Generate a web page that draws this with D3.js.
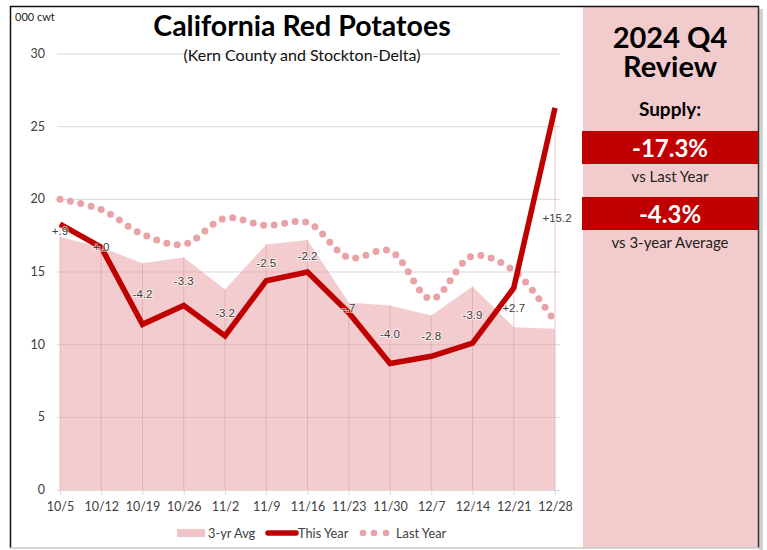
<!DOCTYPE html>
<html>
<head>
<meta charset="utf-8">
<script src="https://cdnjs.cloudflare.com/ajax/libs/d3/7.8.5/d3.min.js"></script>
<style>
  body { margin: 0; background: #fff; }
  svg text { font-family: Lato, "Open Sans", sans-serif; }
</style>
</head>
<body>
<svg id="chart" width="767" height="550"></svg>
<script>
// weeks ending
var weeks = ["10/5", "10/12", "10/19", "10/26", "11/2", "11/9", "11/16", "11/23", "11/30", "12/7", "12/14", "12/21", "12/28"];
var thisYear = [18.3, 16.7, 11.4, 12.7, 10.6, 14.4, 15.0, 12.2, 8.7, 9.2, 10.1, 13.9, 26.3];
var avg3yr = [17.4, 16.7, 15.6, 16.0, 13.8, 16.9, 17.2, 12.9, 12.7, 12.0, 14.0, 11.2, 11.1];
var lastYear = [20.0, 19.3, 17.6, 16.9, 18.7, 18.2, 18.4, 16.0, 16.45, 13.15, 16.1, 15.1, 11.55];
var diffLabels = ["+.9", "+.0", "-4.2", "-3.3", "-3.2", "-2.5", "-2.2", "-.7", "-4.0", "-2.8", "-3.9", "+2.7", "+15.2"];
var yTicks = [0, 5, 10, 15, 20, 25, 30];
var legendNames = ["3-yr Avg", "This Year", "Last Year"];

var red = "#c00000";
var pink = "#f2cbcc";

var svg = d3.select("#chart");

var x = d3.scalePoint().domain(weeks).range([60, 555]);
var y = d3.scaleLinear().domain([0, 30]).range([490, 54]);

// right panel
svg.append("rect").attr("x", 583).attr("y", 6).attr("width", 176).attr("height", 542).attr("fill", pink);

// frame
svg.append("rect").attr("x", 759).attr("y", 9).attr("width", 4).attr("height", 541).attr("fill", "#b0b0b0").attr("opacity", 0.6);
svg.append("line").attr("x1", 10).attr("x2", 759).attr("y1", 6.5).attr("y2", 6.5).attr("stroke", "#111").attr("stroke-width", 1.5);
svg.append("line").attr("x1", 10.5).attr("x2", 10.5).attr("y1", 6).attr("y2", 548).attr("stroke", "#111").attr("stroke-width", 1.5);
svg.append("line").attr("x1", 758.5).attr("x2", 758.5).attr("y1", 6).attr("y2", 548).attr("stroke", "#333").attr("stroke-width", 1.5);
svg.append("line").attr("x1", 10).attr("x2", 759).attr("y1", 548).attr("y2", 548).attr("stroke", "#c8c8c8").attr("stroke-width", 1.5);

// gridlines
svg.append("g").selectAll("line").data(yTicks.slice(1)).enter().append("line")
  .attr("x1", 57).attr("x2", 560)
  .attr("y1", function (d) { return y(d); }).attr("y2", function (d) { return y(d); })
  .attr("stroke", "#d9d9d9").attr("stroke-width", 1);

// 3-yr avg area
var area = d3.area()
  .x(function (d, i) { return x(weeks[i]); })
  .y0(y(0))
  .y1(function (d) { return y(d); });
svg.append("path").datum(avg3yr).attr("d", area)
  .attr("fill", "#e7a2a5").attr("opacity", 0.55);

// drop lines
svg.append("g").selectAll("line").data(weeks).enter().append("line")
  .attr("x1", function (d) { return x(d); }).attr("x2", function (d) { return x(d); })
  .attr("y1", function (d, i) { return y(Math.max(thisYear[i], avg3yr[i])); })
  .attr("y2", y(0))
  .attr("stroke", "#e39a9d").attr("stroke-width", 1).attr("opacity", 0.55);

// x axis
var xAxis = d3.axisBottom(x).tickSize(5).tickPadding(7);
var gx = svg.append("g").attr("transform", "translate(0," + y(0) + ")").call(xAxis);
gx.select(".domain").attr("d", "M57,0.5H560").attr("stroke", "#d9d9d9");
gx.selectAll(".tick line").attr("stroke", "#d9d9d9");
gx.selectAll(".tick text").attr("fill", "#404040").style("font-size", "12.5px").style("font-family", "Lato, sans-serif");

// y axis labels
svg.append("g").selectAll("text").data(yTicks).enter().append("text")
  .attr("x", 45).attr("y", function (d) { return y(d) + 4; })
  .attr("text-anchor", "end").attr("fill", "#404040").style("font-size", "12.5px")
  .text(function (d) { return d; });

svg.append("text").attr("x", 15).attr("y", 21).attr("fill", "#222").style("font-size", "11px").text("000 cwt");

// last year dotted smooth line
var smoothLine = d3.line()
  .x(function (d, i) { return x(weeks[i]); })
  .y(function (d) { return y(d); })
  .curve(d3.curveCatmullRom.alpha(0.5));
svg.append("path").datum(lastYear).attr("d", smoothLine)
  .attr("fill", "none").attr("stroke", "#e9a3a6").attr("stroke-width", 7)
  .attr("stroke-linecap", "round").attr("stroke-dasharray", "0 10.6");

// this year line
var line = d3.line()
  .x(function (d, i) { return x(weeks[i]); })
  .y(function (d) { return y(d); });
svg.append("path").datum(thisYear).attr("d", line)
  .attr("fill", "none").attr("stroke", red).attr("stroke-width", 5.5)
  .attr("stroke-linejoin", "miter");

// difference labels
svg.append("g").selectAll("text").data(diffLabels).enter().append("text")
  .attr("x", function (d, i) { return x(weeks[i]) + (i == 12 ? 2 : 0); })
  .attr("y", function (d, i) { return (y(thisYear[i]) + y(avg3yr[i])) / 2 + 4; })
  .attr("text-anchor", "middle")
  .attr("fill", "#404040")
  .attr("stroke", "#ffffff").attr("stroke-width", 2).attr("stroke-opacity", 0.6)
  .attr("paint-order", "stroke")
  .style("font-family", "'Liberation Sans', Arial, sans-serif").style("font-size", "11.5px")
  .text(function (d) { return d; });

// titles
svg.append("text").attr("x", 302).attr("y", 36).attr("text-anchor", "middle")
  .style("font-size", "28.5px").style("font-weight", "bold").attr("fill", "#000")
  .text("California Red Potatoes");
svg.append("text").attr("x", 302).attr("y", 61).attr("text-anchor", "middle")
  .style("font-size", "16px").attr("fill", "#111")
  .text("(Kern County and Stockton-Delta)");

// legend
var lg = svg.append("g").attr("transform", "translate(0,533)");
lg.append("rect").attr("x", 177).attr("y", -4).attr("width", 28).attr("height", 8).attr("fill", "#f0c4c6");
lg.append("line").attr("x1", 268).attr("x2", 296).attr("y1", 0).attr("y2", 0)
  .attr("stroke", red).attr("stroke-width", 5.5).attr("stroke-linecap", "round");
lg.selectAll("circle").data([363, 374, 386]).enter().append("circle")
  .attr("cx", function (d) { return d; }).attr("cy", 0).attr("r", 3.3).attr("fill", "#e9a3a6");
lg.selectAll("text").data(legendNames).enter().append("text")
  .attr("x", function (d, i) { return [208, 298, 396][i]; })
  .attr("y", 4.5).attr("fill", "#404040").style("font-size", "12.8px")
  .text(function (d) { return d; });

// review panel
var cx = 670;
svg.append("text").attr("x", cx).attr("y", 48).attr("text-anchor", "middle")
  .style("font-size", "29px").style("font-weight", "bold").text("2024 Q4");
svg.append("text").attr("x", cx).attr("y", 77).attr("text-anchor", "middle")
  .style("font-size", "29px").style("font-weight", "bold").text("Review");
svg.append("text").attr("x", cx).attr("y", 116).attr("text-anchor", "middle")
  .style("font-size", "19px").style("font-weight", "bold").text("Supply:");

var boxes = [
  { value: "-17.3%", label: "vs Last Year", top: 131 },
  { value: "-4.3%", label: "vs 3-year Average", top: 197 }
];
boxes.forEach(function (b) {
  svg.append("rect").attr("x", 582).attr("y", b.top).attr("width", 176).attr("height", 33).attr("fill", red);
  svg.append("text").attr("x", cx).attr("y", b.top + 26).attr("text-anchor", "middle")
    .attr("fill", "#fff").style("font-size", "24px").style("font-weight", "bold").text(b.value);
  svg.append("text").attr("x", cx).attr("y", b.top + 51).attr("text-anchor", "middle")
    .attr("fill", "#222").style("font-size", "15px").text(b.label);
});
</script>
</body>
</html>
